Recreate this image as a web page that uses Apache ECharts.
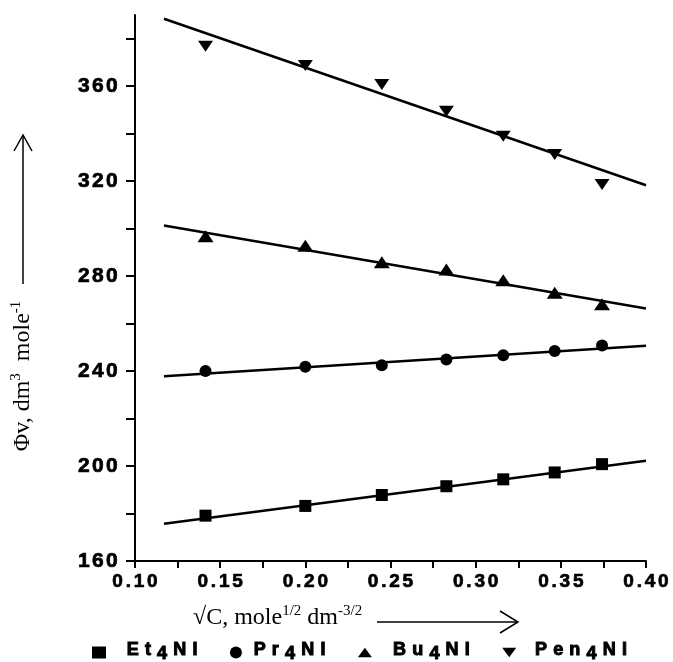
<!DOCTYPE html>
<html>
<head>
<meta charset="utf-8">
<title>Phi v vs sqrt C</title>
<script src="https://cdn.jsdelivr.net/npm/echarts@6/dist/echarts.min.js"></script>
<style>
  html, body { margin: 0; padding: 0; background: #fff; }
  #chart { width: 673px; height: 662px; }
</style>
</head>
<body>
<div id="chart"></div>
<script>
// measured points, sqrt(C) in mole^1/2 dm^-3/2
const sqrtC = [0.1414, 0.2, 0.2449, 0.2828, 0.3162, 0.3464, 0.3742];
const et4ni = [179.1, 183.2, 187.8, 191.5, 194.4, 197.3, 200.8];
const pr4ni = [240.0, 241.8, 242.5, 244.9, 246.7, 248.5, 250.8];
const bu4ni = [296.8, 292.8, 285.8, 282.8, 278.3, 273.0, 268.2];
const pen4ni = [376.8, 368.7, 360.7, 349.5, 338.9, 331.2, 318.6];

// fitted straight lines (ends)
const fitX = [0.117, 0.40];
const et4niFit = [175.7, 202.2];
const pr4niFit = [237.8, 250.7];
const bu4niFit = [301.3, 266.4];
const pen4niFit = [388.4, 318.3];

const xTicks = [0.10, 0.125, 0.15, 0.175, 0.20, 0.225, 0.25, 0.275, 0.30, 0.325, 0.35, 0.375, 0.40];
const xLabels = [0.10, 0.15, 0.20, 0.25, 0.30, 0.35, 0.40];
const yTicks = [160, 180, 200, 220, 240, 260, 280, 300, 320, 340, 360, 380];
const yLabels = [160, 200, 240, 280, 320, 360];

const seriesNames = ['Et4NI', 'Pr4NI', 'Bu4NI', 'Pen4NI'];

const TRI_UP = 'path://M7.5,0L15,10L0,10Z';
const TRI_DOWN = 'path://M0,0L15,0L7.5,10Z';

const chart = echarts.init(document.getElementById('chart'));

const pairs = (xs, ys) => xs.map((x, i) => [x, ys[i]]);

// spread letters out a bit (the original uses wide tracking)
const spaced = (str, style) => str.split('').map(ch => `{${style}|${ch}}`).join('');
const legendText = name => '{g|}' + name.split('').map(ch => /\d/.test(ch) ? `{s|${ch}}` : `{b|${ch}}`).join('') + '{e| }';

const scatter = (name, ys, symbol, size) => ({
  name: name,
  type: 'scatter',
  symbol: symbol,
  symbolSize: size,
  symbolKeepAspect: false,
  itemStyle: { color: '#000', opacity: 1 },
  data: pairs(sqrtC, ys),
  z: 3
});

const fitLine = (name, ys) => ({
  name: name + ' fit',
  type: 'line',
  showSymbol: false,
  silent: true,
  lineStyle: { color: '#000', width: 2.5 },
  data: pairs(fitX, ys),
  z: 2
});

const labelFont = {
  fontFamily: 'Liberation Sans',
  fontWeight: 'bold',
  color: '#000',
  textBorderColor: '#000',
  textBorderWidth: 0.7
};

const serif = { fontFamily: 'Liberation Serif', fill: '#000' };

// g: room between icon and text, e: room after the text
const legendRich = (gap, tail) => ({
  rich: {
    g: { width: gap },
    e: { width: tail || 0.1 },
    b: Object.assign({}, labelFont, { fontSize: 18, lineHeight: 18, padding: [0, 3.1, 4, 3.1], textBorderWidth: 1 }),
    s: Object.assign({}, labelFont, { fontSize: 18, lineHeight: 18, padding: [4, 3.1, 0, 3.1], textBorderWidth: 1 })
  }
});

chart.setOption({
  animation: false,
  grid: { left: 135, right: 27, top: 15, bottom: 101 },
  xAxis: {
    type: 'value',
    min: 0.10,
    max: 0.40,
    axisLine: { lineStyle: { color: '#000', width: 2 } },
    axisTick: { length: 7, customValues: xTicks, lineStyle: { color: '#000', width: 2 } },
    axisLabel: {
      margin: 11,
      customValues: xLabels,
      formatter: v => spaced(v.toFixed(2), 'n'),
      rich: { n: Object.assign({ fontSize: 19, padding: [0, 1.4] }, labelFont) }
    },
    splitLine: { show: false }
  },
  yAxis: {
    type: 'value',
    min: 160,
    max: 390,
    axisLine: { show: true, lineStyle: { color: '#000', width: 2 } },
    axisTick: { show: true, length: 9, customValues: yTicks, lineStyle: { color: '#000', width: 2 } },
    axisLabel: {
      margin: 16,
      customValues: yLabels,
      formatter: v => spaced(String(v), 'n'),
      rich: { n: Object.assign({ fontSize: 21, padding: [0, 1.2] }, labelFont) }
    },
    splitLine: { show: false }
  },
  legend: {
    left: 92,
    top: 641,
    padding: 0,
    itemWidth: 14,
    itemHeight: 12,
    itemGap: 26,
    data: [
      { name: 'Et4NI', icon: 'rect', textStyle: legendRich(12.6, 0) },
      { name: 'Pr4NI', icon: 'circle', textStyle: legendRich(2.6, 5) },
      { name: 'Bu4NI', icon: TRI_UP, textStyle: legendRich(13, 11) },
      { name: 'Pen4NI', icon: TRI_DOWN, textStyle: legendRich(10.6, 0) }
    ],
    formatter: legendText,
    textStyle: legendRich(12, 0)
  },
  graphic: [
    {
      type: 'text',
      x: 22,
      y: 376,
      rotation: Math.PI / 2,
      style: {
        text: '{t|Φv, dm}{u|3}{t|  mole}{u|-1}',
        align: 'center',
        verticalAlign: 'middle',
        rich: {
          t: Object.assign({ fontSize: 24, lineHeight: 26, verticalAlign: 'bottom' }, serif),
          u: Object.assign({ fontSize: 15, lineHeight: 14, verticalAlign: 'top' }, serif)
        }
      }
    },
    { type: 'polyline', shape: { points: [[23, 284], [23, 136]] }, style: { stroke: '#000', lineWidth: 1.5, fill: null } },
    { type: 'polyline', shape: { points: [[14, 151], [23, 135], [32, 151]] }, style: { stroke: '#000', lineWidth: 1.5, fill: null } },
    {
      type: 'text',
      x: 193,
      y: 617,
      style: {
        text: '{t|√C, mole}{u|1/2}{t| dm}{u|-3/2}',
        align: 'left',
        verticalAlign: 'middle',
        rich: {
          t: Object.assign({ fontSize: 24, lineHeight: 26, verticalAlign: 'bottom' }, serif),
          u: Object.assign({ fontSize: 15, lineHeight: 14, verticalAlign: 'top' }, serif)
        }
      }
    },
    { type: 'polyline', shape: { points: [[377, 622], [517, 622]] }, style: { stroke: '#000', lineWidth: 1.5, fill: null } },
    { type: 'polyline', shape: { points: [[500, 611], [518, 622], [500, 633]] }, style: { stroke: '#000', lineWidth: 1.5, fill: null } }
  ],
  series: [
    fitLine('Et4NI', et4niFit),
    fitLine('Pr4NI', pr4niFit),
    fitLine('Bu4NI', bu4niFit),
    fitLine('Pen4NI', pen4niFit),
    scatter(seriesNames[0], et4ni, 'rect', 12),
    scatter(seriesNames[1], pr4ni, 'circle', 12),
    scatter(seriesNames[2], bu4ni, TRI_UP, [16, 12]),
    scatter(seriesNames[3], pen4ni, TRI_DOWN, [15, 11])
  ]
});
</script>
</body>
</html>
